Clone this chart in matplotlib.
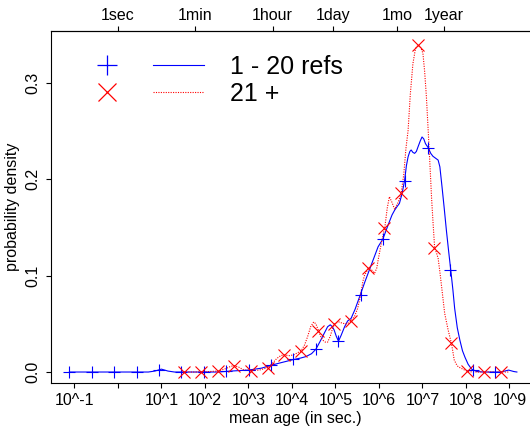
import numpy as np
import matplotlib
matplotlib.use("Agg")
import matplotlib.pyplot as plt
from matplotlib.lines import Line2D
from matplotlib.legend_handler import HandlerTuple

plt.rcParams['font.family'] = ['Liberation Sans', 'DejaVu Sans']

# ================= DATA (log10 of mean age in seconds) =================
blue_curve_log = [-1.115, 0.70, 0.85, 1.0, 1.15, 1.3, 2.3, 2.6, 3.0, 3.3, 3.52, 3.75,
                  4.04, 4.2, 4.32, 4.45, 4.55, 4.65, 4.74, 4.82, 4.88, 4.93, 4.97,
                  5.02, 5.07, 5.13, 5.21, 5.28, 5.36, 5.45, 5.57, 5.68, 5.78, 5.88,
                  5.98, 6.09, 6.21, 6.3, 6.36, 6.42, 6.47, 6.53, 6.59, 6.63, 6.67,
                  6.71, 6.74, 6.78, 6.82, 6.86, 6.90, 6.95, 6.99, 7.03, 7.07, 7.13,
                  7.19, 7.24, 7.30, 7.36, 7.40, 7.45, 7.50, 7.55, 7.60, 7.65, 7.70,
                  7.74, 7.80, 7.86, 7.92, 7.98, 8.05, 8.13, 8.25, 8.4, 8.8, 8.98,
                  9.1, 9.17]
blue_curve_val = [0, 0, 0.001, 0.003, 0.001, 0, 0, 0.001, 0.002, 0.004, 0.007, 0.0097,
                  0.013, 0.0145, 0.016, 0.019, 0.0236, 0.032, 0.040, 0.047, 0.049,
                  0.047, 0.0436, 0.037, 0.032, 0.038, 0.047, 0.053, 0.0557, 0.065,
                  0.080, 0.094, 0.106, 0.118, 0.130, 0.138, 0.1526, 0.163, 0.168,
                  0.172, 0.175, 0.185, 0.199, 0.214, 0.2235, 0.229, 0.2305, 0.228,
                  0.227, 0.229, 0.234, 0.240, 0.244, 0.242, 0.237, 0.233, 0.227,
                  0.224, 0.222, 0.220, 0.213, 0.192, 0.170, 0.147, 0.126, 0.106,
                  0.085, 0.066, 0.046, 0.033, 0.022, 0.015, 0.008, 0.003, 0.0005,
                  0, 0, 0.002, 0.0005, 0]

blue_mark_log = [-1.115, -0.60, -0.085, 0.43, 0.945, 1.46, 1.975, 2.49, 3.005, 3.52,
                 4.035, 4.55, 5.065, 5.58, 6.095, 6.61, 7.125, 7.64, 8.155, 8.67]
blue_mark_val = [0, 0, 0, 0, 0.002, 0, 0, 0.0008, 0.002, 0.007,
                 0.013, 0.0236, 0.032, 0.080, 0.138, 0.1986, 0.233, 0.106, 0.002, 0]

red_curve_log = [1.45, 1.53, 1.91, 2.1, 2.3, 2.45, 2.6, 2.68, 2.78, 2.9, 3.06, 3.25,
                 3.44, 3.55, 3.65, 3.75, 3.83, 3.95, 4.05, 4.13, 4.21, 4.29, 4.36,
                 4.43, 4.50, 4.55, 4.61, 4.66, 4.71, 4.77, 4.82, 4.88, 4.94, 4.99,
                 5.08, 5.17, 5.27, 5.36, 5.44, 5.51, 5.58, 5.63, 5.67, 5.76, 5.83,
                 5.90, 5.95, 5.98, 6.06, 6.14, 6.19, 6.24, 6.30, 6.36, 6.44, 6.51,
                 6.57, 6.62, 6.67, 6.72, 6.78, 6.84, 6.90, 6.96, 7.01, 7.05, 7.09,
                 7.13, 7.17, 7.21, 7.25, 7.28, 7.32, 7.36, 7.40, 7.44, 7.51, 7.59,
                 7.67, 7.73, 7.78, 7.82, 7.97, 8.07, 8.2, 9.0]
red_curve_val = [0, 0, 0, 0.0005, 0.001, 0.003, 0.006, 0.0065, 0.005, 0.002, 0.0015,
                 0.002, 0.0045, 0.009, 0.014, 0.0172, 0.0176, 0.017, 0.018, 0.020,
                 0.022, 0.028, 0.0367, 0.047, 0.052, 0.050, 0.043, 0.037, 0.033,
                 0.031, 0.031, 0.037, 0.046, 0.0505, 0.052, 0.0505, 0.050, 0.053,
                 0.058, 0.066, 0.080, 0.094, 0.1007, 0.1076, 0.106, 0.1025, 0.108,
                 0.116, 0.135, 0.152, 0.170, 0.182, 0.176, 0.169, 0.176, 0.1855,
                 0.205, 0.232, 0.251, 0.288, 0.320, 0.336, 0.3395, 0.337, 0.331,
                 0.312, 0.286, 0.252, 0.217, 0.180, 0.150, 0.129, 0.124, 0.118,
                 0.104, 0.0886, 0.061, 0.0436, 0.029, 0.0125, 0.008, 0.0055, 0.002,
                 0.0003, 0, 0]

red_mark_log = [1.53, 1.913, 2.295, 2.678, 3.06, 3.443, 3.826, 4.208, 4.591, 4.973,
                5.356, 5.739, 6.121, 6.504, 6.886, 7.269, 7.652, 8.034, 8.417, 8.8]
red_mark_val = [0, 0, 0.001, 0.0065, 0.0015, 0.0045, 0.0176, 0.022, 0.043, 0.050,
                0.053, 0.1076, 0.150, 0.1855, 0.3395, 0.129, 0.030, 0.001, 0, 0]

bottom_ticks = [1e-1, 1e0, 1e1, 1e2, 1e3, 1e4, 1e5, 1e6, 1e7, 1e8, 1e9]
bottom_labels = ["10^-1", "", "10^1", "10^2", "10^3", "10^4", "10^5",
                 "10^6", "10^7", "10^8", "10^9"]
top_ticks = [1, 60, 3600, 86400, 2592000, 31536000]
top_labels = ["1sec", "1min", "1hour", "1day", "1mo", "1year"]
y_ticks = [0.0, 0.1, 0.2, 0.3]

BLUE = "#0000FF"
RED = "#FF0000"
FS = 11.5

# ================= PLOT =================
fig = plt.figure(figsize=(5.3, 4.4), dpi=100)
ax = fig.add_axes([0.0962, 0.1295, 0.9238, 0.8])

ax.plot(10.0 ** np.array(blue_curve_log), blue_curve_val, color=BLUE, lw=0.8)
ax.plot(10.0 ** np.array(red_curve_log), red_curve_val, color=RED, lw=0.8,
        ls=(0, (1, 1.2)))
ax.plot(10.0 ** np.array(blue_mark_log), blue_mark_val, ls="none", marker="+",
        ms=8.5, mew=0.8, color=BLUE)
ax.plot(10.0 ** np.array(red_mark_log), red_mark_val, ls="none", marker="x",
        ms=8, mew=0.8, color=RED)

ax.set_xscale("log")
ax.set_xlim(10 ** -1.5375, 10 ** 9.715)
ax.set_ylim(-0.01142, 0.354)

ax.set_xticks(bottom_ticks)
ax.set_xticklabels(bottom_labels)
ax.xaxis.set_minor_locator(matplotlib.ticker.NullLocator())
ax.set_yticks(y_ticks)
ax.set_yticklabels([f"{v:.1f}" for v in y_ticks], rotation=90, va="center")
ax.tick_params(axis="both", labelsize=FS, length=3.5, width=0.8, direction="out")
ax.tick_params(axis="x", pad=4)
ax.tick_params(axis="y", pad=4)

ax.set_xlabel("mean age (in sec.)", fontsize=FS, labelpad=2)
ax.set_ylabel("probability density", fontsize=FS, labelpad=4)

top = ax.secondary_xaxis("top")
top.set_xticks(top_ticks)
top.set_xticklabels(top_labels)
top.xaxis.set_minor_locator(matplotlib.ticker.NullLocator())
top.tick_params(labelsize=FS, length=3.5, width=0.8, pad=2)

for s in ax.spines.values():
    s.set_linewidth(0.8)
ax.spines["right"].set_visible(False)

# legend: marker + line sample + text
h_blue = (Line2D([], [], ls="none", marker="+", ms=14, mew=0.9, color=BLUE),
          Line2D([], [], color=BLUE, lw=0.8))
h_red = (Line2D([], [], ls="none", marker="x", ms=13, mew=0.9, color=RED),
         Line2D([], [], color=RED, lw=0.8, ls=(0, (1, 1.2))))
ax.legend([h_blue, h_red], ["1 - 20 refs", "21 +"],
          handler_map={tuple: HandlerTuple(ndivide=None, pad=0.82)},
          loc="upper left", bbox_to_anchor=(0.062, 0.933), frameon=False,
          fontsize=18, handlelength=4.9, handletextpad=1.04, labelspacing=0.12,
          borderpad=0, borderaxespad=0)

fig.savefig("out.png", dpi=100)
